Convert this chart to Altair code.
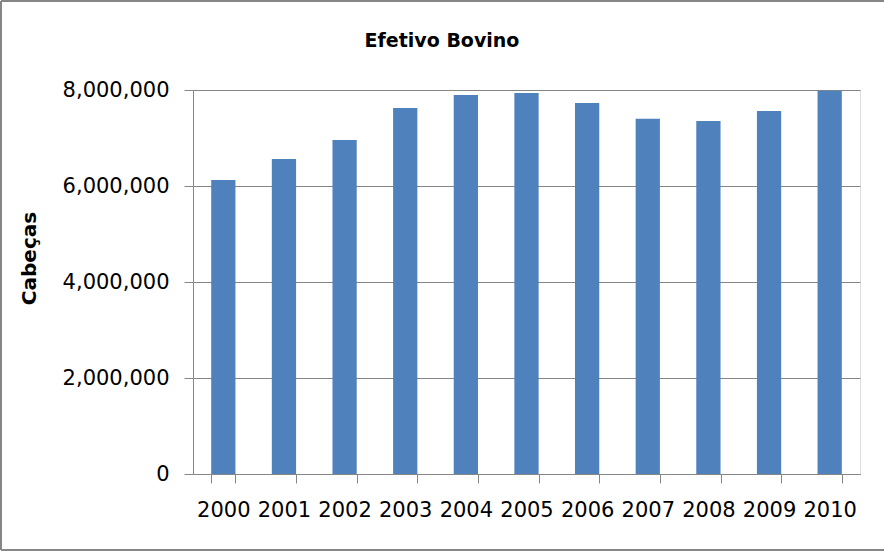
import altair as alt
import pandas as pd

# Cattle herd size (heads) per year
anos = ["2000", "2001", "2002", "2003", "2004", "2005", "2006", "2007", "2008", "2009", "2010"]
cabecas = [6125000, 6560000, 6960000, 7625000, 7895000, 7940000, 7730000, 7400000, 7355000, 7565000, 7985000]
y_ticks = [0, 2000000, 4000000, 6000000, 8000000]
titulo = "Efetivo Bovino"

df = pd.DataFrame({"Ano": anos, "Cabeças": cabecas})

GRAY = "#868686"
FONT = "DejaVu Sans"

bars = alt.Chart(df).mark_bar(color="#4F81BD").encode(
    x=alt.X(
        "Ano:N",
        sort=anos,
        scale=alt.Scale(paddingInner=0.6, paddingOuter=0.3),
        axis=alt.Axis(
            title=None,
            labelAngle=0,
            labelFont=FONT,
            labelFontSize=21,
            labelColor="#000000",
            labelPadding=16,
            tickBand="extent",
            tickSize=9,
            tickColor=GRAY,
            domainColor=GRAY,
            grid=False,
        ),
    ),
    y=alt.Y(
        "Cabeças:Q",
        scale=alt.Scale(domain=[0, 8000000], nice=False),
        axis=alt.Axis(
            values=y_ticks,
            format=",d",
            title="Cabeças",
            titleFont=FONT,
            titleFontSize=20,
            titleFontWeight="bold",
            titleColor="#000000",
            titleAngle=270,
            titleX=-164,
            titleY=168,
            titleAlign="center",
            titleBaseline="middle",
            labelFont=FONT,
            labelFontSize=21,
            labelColor="#000000",
            labelPadding=15,
            tickSize=9,
            tickColor=GRAY,
            domainColor=GRAY,
            gridColor=GRAY,
            gridWidth=1,
        ),
    ),
)

# Chart title, centred on the whole figure
title = alt.Chart(pd.DataFrame({"t": [titulo]})).mark_text(
    font=FONT, fontSize=19, fontWeight="bold", color="#000000",
    align="center", baseline="alphabetic",
).encode(text="t:N", x=alt.value(249), y=alt.value(-43))

# Frame lines along the top, left and bottom edges of the figure
one = pd.DataFrame({"k": [0]})
frame_style = dict(color=GRAY, strokeWidth=2)
top_edge = alt.Chart(one).mark_rule(**frame_style).encode(
    x=alt.value(-192), x2=alt.value(700), y=alt.value(-89)
)
left_edge = alt.Chart(one).mark_rule(**frame_style).encode(
    x=alt.value(-192), y=alt.value(-89), y2=alt.value(460)
)
bottom_edge = alt.Chart(one).mark_rule(**frame_style).encode(
    x=alt.value(-192), x2=alt.value(700), y=alt.value(460)
)

chart = alt.layer(bars, title, top_edge, left_edge, bottom_edge).properties(
    width=667,
    height=384,
    padding={"left": 193, "top": 90, "right": 24, "bottom": 78},
    autosize=alt.AutoSizeParams(type="none"),
).configure_view(stroke=None).configure(background="white")

chart.save("out.html", embed_options={"renderer": "svg", "actions": False})
